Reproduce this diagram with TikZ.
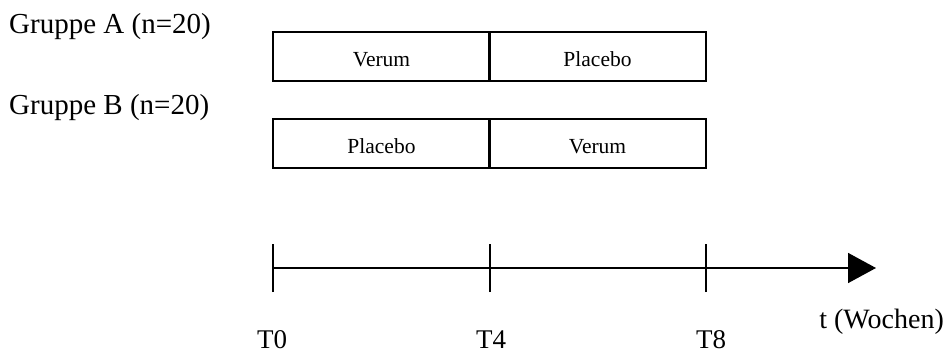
\documentclass[tikz,border=0pt]{standalone}
\usepackage{fontspec}
\setmainfont{Liberation Serif}
\usetikzlibrary{arrows.meta}
\begin{document}
\begin{tikzpicture}[x=1pt,y=-1pt,
  cell/.style={draw,line width=1.3pt,minimum width=217pt,minimum height=49pt,inner sep=0pt,
    text height=20pt,text depth=0pt,font=\fontsize{21.5}{24}\selectfont},
  lbl/.style={inner sep=0pt,font=\fontsize{27}{30}\selectfont},
  glbl/.style={inner sep=0pt,font=\fontsize{29}{32}\selectfont},
  tick/.style={line width=1.6pt},
  axis/.style={line width=1.6pt,-{Triangle[length=28pt,width=30pt]}}]
\useasboundingbox (0,0) rectangle (945,356);
% group labels
\node[glbl,anchor=base west] (ga) at (9,33) {Gruppe A (n=20)};
\node[glbl,anchor=base west] (gb) at (9,114) {Gruppe B (n=20)};
% boxes
\node[cell] (a1) at (381.5,56.5) {Verum};
\node[cell] (a2) at (597.5,56.5) {Placebo};
\node[cell] (b1) at (381.5,143.5) {Placebo};
\node[cell] (b2) at (597.5,143.5) {Verum};
% axis
\coordinate (t0) at (273,268);
\coordinate (t4) at (490,268);
\coordinate (t8) at (706,268);
\coordinate (tend) at (876,268);
\draw[axis] (t0) -- (tend);
\foreach \c in {t0,t4,t8}{\draw[tick] ([yshift=-24pt]\c) -- ([yshift=24pt]\c);}
% axis labels
\node[lbl,anchor=base] (l0) at (272,348) {T0};
\node[lbl,anchor=base] (l4) at (491,348) {T4};
\node[lbl,anchor=base] (l8) at (711,348) {T8};
\node[lbl,font=\fontsize{28}{30}\selectfont,anchor=base east] (lt) at (944,328) {t (Wochen)};
\end{tikzpicture}
\end{document}
